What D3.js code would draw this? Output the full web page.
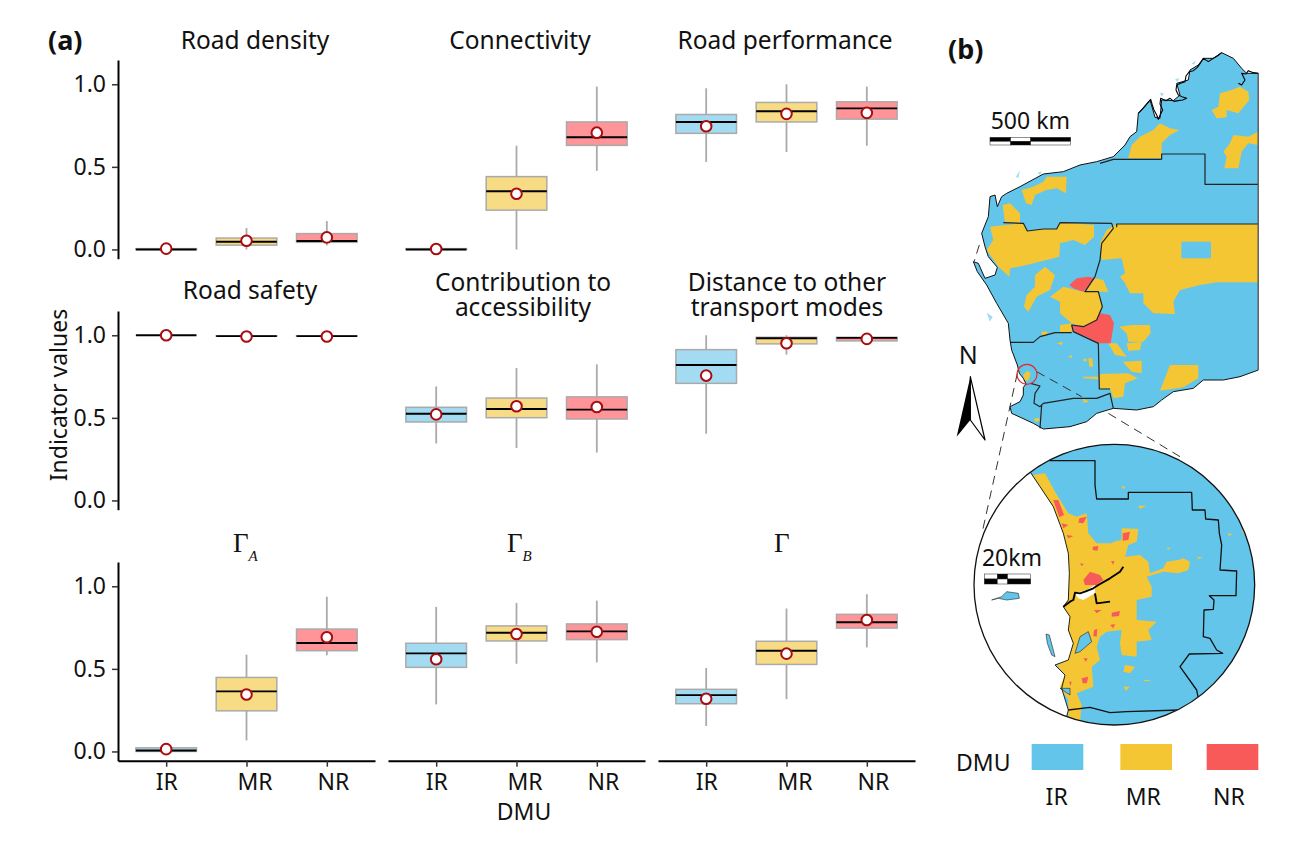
<!DOCTYPE html>
<html><head><meta charset="utf-8">
<script src="https://cdn.jsdelivr.net/npm/d3@7"></script>
<style>
html,body{margin:0;padding:0;background:#fff}
svg{display:block}
text{font-family:"Noto Sans","Open Sans",sans-serif;fill:#111}
</style></head><body>
<svg id="c" width="1305" height="846"></svg>
<script>
// ---------- box-plot data: [low, q1, median, q3, high, mean] for IR, MR, NR ----------
const categories = ["IR","MR","NR"];
const roadDensity  = [[0,0,0,.005,.006,.005],[0,.026,.047,.069,.13,.053],[.024,.043,.051,.096,.172,.073]];
const connectivity = [[0,0,0,.005,.006,.003],[0,.238,.352,.441,.628,.337],[.476,.63,.679,.772,.986,.707]];
const roadPerf     = [[.53,.703,.772,.817,.976,.746],[.59,.772,.837,.89,1.0,.821],[.628,.789,.854,.894,.986,.827]];
const roadSafety   = [[1,1,1,1,1,1],[.995,.995,.995,.997,.997,.993],[.995,.995,.995,.997,.997,.993]];
const contribution = [[.345,.475,.525,.564,.69,.521],[.318,.501,.554,.62,.802,.57],[.29,.493,.55,.627,.824,.566]];
const distance     = [[.404,.709,.82,.913,1.0,.756],[.883,.948,.982,.988,1.0,.952],[.962,.966,.984,.988,.99,.978]];
const gammaA       = [[0,0,.006,.022,.03,.014],[.067,.246,.364,.448,.586,.345],[.582,.61,.657,.741,.937,.691]];
const gammaB       = [[.285,.509,.594,.655,.875,.558],[.531,.669,.719,.76,.899,.711],[.539,.677,.727,.772,.913,.725]];
const gammaAll     = [[.154,.289,.341,.376,.505,.319],[.317,.527,.61,.667,.865,.592],[.63,.747,.782,.83,.952,.796]];
const yTicks = [0,.5,1];
const panelSeries = [roadDensity,connectivity,roadPerf,roadSafety,contribution,distance,gammaA,gammaB,gammaAll];
const panelTitles = [["Road density"],["Connectivity"],["Road performance"],["Road safety"],["Contribution to","accessibility"],["Distance to other","transport modes"],null,null,null];

// ---------- map data, in map units ----------
const stateOutline = [[955,130],[955,1020],[900,1040],[850,1050],[790,1050],[760,1075],[700,1085],[665,1110],[640,1130],[590,1140],[520,1135],[470,1150],[440,1175],[390,1190],[310,1197],[280,1180],[215,1150],[210,1130],[240,1115],[250,1095],[250,1072],[258,1062],[250,1045],[238,1030],[232,1005],[215,960],[210,930],[205,880],[170,820],[140,765],[112,725],[100,695],[115,700],[135,745],[165,735],[172,712],[145,680],[135,650],[125,610],[145,560],[150,500],[165,495],[172,530],[185,500],[200,490],[240,470],[310,432],[370,425],[420,405],[470,395],[520,380],[555,345],[570,320],[590,305],[595,250],[630,210],[645,262],[660,265],[665,210],[700,212],[720,195],[710,160],[745,150],[750,120],[775,105],[790,85],[820,85],[845,68],[880,85],[905,115],[920,130],[955,130]];
const kimberleyCoast = [[595,250],[612,232],[632,208],[637,225],[642,240],[650,255],[655,268],[663,250],[668,240],[660,222],[662,205],[678,212],[690,205],[702,214],[715,212],[728,210],[740,205],[726,200],[715,195],[708,180],[710,165],[722,160],[735,155],[738,138],[748,125],[760,122],[772,112],[782,98],[790,85],[805,95],[820,85],[832,78],[845,68]];
const kimberleyInlet = [[895,160],[905,165],[915,150],[905,130],[918,132],[925,122],[940,128],[955,130]];
const coastSpecks = [[[705,148],[718,145],[712,155]],[[660,188],[672,190],[665,200]],[[228,440],[240,420],[235,445]],[[292,428],[306,424],[300,434]],[[140,848],[158,860],[150,875]],[[755,100],[768,92],[762,104]]];
const yellowMain = [
 [[565,385],[575,345],[600,320],[640,300],[660,280],[690,295],[718,300],[690,315],[665,340],[665,385]],
 [[815,240],[835,230],[840,190],[875,180],[900,170],[925,185],[928,210],[895,250],[860,240],[860,262],[830,265]],
 [[850,365],[870,340],[880,315],[925,320],[955,305],[955,345],[925,340],[905,365],[895,415],[853,415],[860,380]],
 [[245,480],[280,470],[310,455],[320,440],[380,440],[378,490],[350,475],[320,480],[285,495],[275,525],[258,520]],
 [[188,525],[210,520],[240,550],[240,580],[195,578]],
 [[150,590],[250,580],[262,603],[310,597],[350,597],[360,575],[390,580],[462,585],[462,620],[435,645],[400,630],[360,640],[358,680],[320,690],[260,705],[210,715],[208,740],[175,710],[140,660],[160,630]],
 [[530,582],[955,582],[955,757],[830,757],[780,765],[720,780],[700,815],[705,852],[640,850],[610,820],[610,790],[570,790],[555,760],[540,740],[555,730],[545,685],[485,690],[480,640],[500,600]],
 [[285,735],[315,710],[345,735],[330,780],[290,800],[265,845],[252,830],[260,795],[285,770]],
 [[330,800],[370,770],[430,785],[475,785],[487,830],[470,870],[430,890],[395,880],[360,850],[360,815]],
 [[435,785],[465,745],[490,750],[505,785]],
 [[360,885],[395,880],[395,905],[360,908]],
 [[538,890],[575,885],[630,885],[632,910],[610,935],[565,935],[560,910]],
 [[560,940],[605,935],[600,960],[565,962]],
 [[505,940],[530,940],[560,980],[525,975]],
 [[548,995],[605,992],[605,1030],[575,1025]],
 [[478,1032],[565,1030],[593,1045],[555,1060],[550,1100],[520,1105],[510,1075],[478,1077]],
 [[690,1005],[775,1005],[775,1045],[730,1072],[660,1082]],
 [[430,1040],[475,1040],[475,1048],[430,1045]],
 [[445,985],[457,985],[459,1010],[448,1010]],
 [[350,940],[368,935],[365,945]],
 [[385,980],[395,975],[395,985]],
 [[425,990],[440,985],[440,995]],
 [[305,905],[322,905],[322,915],[305,915]],
 [[430,1105],[447,1115],[430,1118]],
 [[282,1165],[298,1165],[298,1173],[285,1175]],
 [[250,1035],[262,1022],[272,1030],[265,1052],[252,1050]]
];
const blueHoleMain = [[724,635],[813,635],[813,685],[724,685]];
const redMain = [
 [[388,765],[410,745],[445,740],[465,745],[430,785],[400,775]],
 [[395,885],[430,890],[470,870],[480,850],[510,855],[522,880],[512,940],[475,940],[440,920],[400,905]]
];
const boundsMain = [
 [[665,388],[665,372],[795,372],[795,463],[955,463]],
 [[480,400],[520,388],[665,388]],
 [[190,578],[250,580],[262,603],[310,597],[350,597],[360,578],[515,580],[520,595],[485,640],[480,690],[465,740],[435,785],[475,785],[487,830],[470,870],[430,890],[395,885],[400,905],[475,940],[478,1077],[510,1077]],
 [[530,592],[530,582],[955,582]],
 [[210,937],[280,937],[300,920],[345,908],[395,908]],
 [[272,1060],[300,1068],[285,1090],[282,1120],[300,1130],[310,1120],[400,1105],[470,1105],[510,1090],[520,1135]],
 [[305,1125],[300,1195]]
];
const zoomDash = [
 [[118,645],[102,695]],
 [[232,1030],[127,1505]],
 [[290,1025],[425,1100]],
 [[505,1150],[720,1280]]
];
// inset, same units
const insetCircle = {cx:523,cy:1664,r:421};
const seaInset = [[270,1325],[300,1370],[340,1430],[370,1510],[385,1570],[388,1630],[385,1710],[370,1730],[390,1760],[385,1800],[400,1840],[385,1890],[345,1905],[375,1935],[365,1975],[385,2040],[380,2060],[380,2100],[60,2100],[60,1300]];
const yellowInset = [[278,1335],[315,1330],[345,1385],[385,1450],[410,1460],[440,1450],[445,1510],[470,1540],[515,1540],[520,1535],[545,1530],[545,1495],[595,1497],[590,1535],[565,1545],[555,1580],[600,1575],[625,1595],[630,1630],[670,1615],[680,1595],[715,1590],[730,1585],[750,1595],[745,1620],[715,1630],[670,1625],[620,1640],[635,1670],[635,1700],[590,1710],[590,1770],[650,1775],[625,1800],[635,1830],[590,1835],[590,1880],[545,1875],[540,1840],[545,1800],[500,1805],[480,1820],[470,1850],[480,1890],[455,1910],[460,1970],[410,1990],[425,2025],[420,2075],[385,2060],[385,2010],[360,1970],[375,1935],[350,1905],[385,1890],[400,1840],[385,1800],[390,1760],[370,1730],[385,1710],[388,1630],[385,1570],[370,1510],[340,1430],[300,1370]];
const yellowSmallInset = [
 [[555,1905],[585,1910],[570,1930],[550,1925]],[[550,1970],[570,1970],[558,1982]],[[595,1427],[618,1427],[600,1437]],
 [[680,1555],[692,1552],[685,1560]],[[772,1580],[788,1582],[775,1588]],[[865,1510],[878,1513],[865,1518]],
 [[905,1500],[915,1505],[908,1510]],[[545,1368],[557,1370],[550,1378]],[[612,1950],[630,1950],[630,1953],[612,1953]]
];
const blueInset = [
 [[420,1820],[445,1805],[455,1835],[420,1865],[405,1870]],
 [[360,1975],[390,1975],[390,1995]],
 [[155,1710],[185,1700],[200,1685],[235,1690],[238,1705],[200,1710],[175,1705]],
 [[318,1812],[328,1815],[345,1880],[335,1875],[322,1840]]
];
const redInset = [
 [[340,1410],[355,1410],[372,1455],[358,1462]],[[365,1480],[385,1485],[370,1495]],[[380,1515],[400,1518],[385,1525]],
 [[418,1465],[440,1460],[430,1480],[415,1478]],[[458,1550],[475,1548],[472,1562],[458,1560]],[[420,1600],[432,1602],[425,1608]],
 [[548,1510],[570,1505],[565,1530],[548,1532]],[[430,1650],[450,1625],[480,1635],[490,1650],[470,1665],[435,1665]],
 [[513,1593],[523,1593],[520,1605]],[[462,1740],[485,1740],[470,1750]],[[515,1748],[540,1743],[537,1758],[515,1760]],
 [[462,1800],[472,1797],[470,1820],[460,1818]],[[510,1785],[525,1782],[520,1795]],[[430,1885],[443,1885],[438,1895]],
 [[425,1945],[445,1940],[440,1960],[428,1960]],[[387,1955],[395,1955],[392,1968]]
];
const boundsInset = [
 [[328,1292],[465,1292],[465,1365],[470,1407],[565,1407],[565,1387],[755,1387],[757,1440],[795,1440],[797,1467],[835,1470],[838,1510],[845,1545],[840,1620],[890,1623],[888,1697],[808,1697],[822,1710],[820,1738],[792,1740],[790,1820],[810,1825],[830,1860],[848,1870],[748,1872],[720,1910],[770,1980],[775,2005]],
 [[385,2040],[450,2032],[510,2048],[560,2045],[720,2040]]
];
const coastInset = [[270,1325],[300,1370],[340,1430],[370,1510],[385,1570],[388,1630],[385,1710],[370,1730],[390,1760],[385,1800],[400,1840],[385,1890],[345,1905],[375,1935],[365,1975],[385,2040],[380,2060]];
const riverInset = [
 [[370,1730],[390,1715],[400,1710],[405,1688],[420,1690],[435,1685],[460,1675],[475,1665],[510,1645],[540,1625],[550,1610]],
 [[465,1690],[470,1720],[510,1715]]
];
const riverWater = [[405,1690],[440,1680],[465,1665],[465,1690],[430,1710],[415,1705]];
const scaleBarMain = {x:[150,212,272,392],y:[322,334,345]};
const scaleBarInset = {x:[133,172,203,272],y:[1632,1647,1662]};
const northArrowRight = [[91,1040],[91,1170],[135,1230]];
const northArrowSolid = [[91,1040],[91,1170],[50,1220]];
const legendKeys = [[275,"IR"],[541,"MR"],[800,"NR"]];

// ---------- styles ----------
const boxFill = {IR:"#a3dcf2",MR:"#f8dc85",NR:"#ff9598"};
const mapColor = {IR:"#63c5ea",MR:"#f5c634",NR:"#f85a5a"};
const svg = d3.select("#c");

// ---------- panels ----------
const panelX = [118,388,658], panelW = 257;
const rowBase = [[60,258.7],[311,509.7],[562,760.7]];
panelSeries.forEach((series,i)=>{
  const col = i%3, row = Math.floor(i/3);
  const x = d3.scalePoint().domain(categories).range([panelX[col],panelX[col]+panelW]).padding(.6);
  const y = d3.scaleLinear().domain([-.056,1.147]).range([rowBase[row][1],rowBase[row][0]]);
  const g = svg.append("g");
  const bw = x.step()*.755;
  series.forEach((d,k)=>{
    const c = categories[k], cx = x(c);
    const [lo,q1,med,q3,hi,mean] = d;
    g.append("line").attr("x1",cx).attr("x2",cx).attr("y1",y(lo)).attr("y2",y(hi)).attr("stroke","#aaa").attr("stroke-width",1.8);
    g.append("rect").attr("x",cx-bw/2).attr("width",bw).attr("y",y(q3)).attr("height",y(q1)-y(q3))
      .attr("fill",boxFill[c]).attr("stroke","#aaa").attr("stroke-width",1.5);
    g.append("line").attr("x1",cx-bw/2).attr("x2",cx+bw/2).attr("y1",y(med)).attr("y2",y(med)).attr("stroke","#000").attr("stroke-width",1.9);
    g.append("circle").attr("cx",cx).attr("cy",y(mean)).attr("r",5.3).attr("fill","#fff").attr("stroke","#a80c10").attr("stroke-width",2);
  });
  if(col===0){
    const ax = g.append("g").attr("transform",`translate(${panelX[0]},0)`)
      .call(d3.axisLeft(y).tickValues(yTicks).tickFormat(d3.format(".1f")).tickSize(6).tickSizeOuter(0).tickPadding(6));
    ax.select(".domain").attr("stroke","#000").attr("stroke-width",2);
    ax.selectAll(".tick line").attr("stroke","#333").attr("stroke-width",1.5);
    ax.selectAll("text").style("font-size","23px").style("font-family",'"Noto Sans"').attr("fill","#111");
  }
  if(row===2){
    const ax = g.append("g").attr("transform",`translate(0,${rowBase[2][1]})`)
      .call(d3.axisBottom(x).tickSize(6).tickSizeOuter(0).tickPadding(7));
    ax.select(".domain").attr("stroke","#000").attr("stroke-width",2);
    ax.selectAll(".tick line").attr("stroke","#333").attr("stroke-width",1.5);
    ax.selectAll("text").style("font-size","23px").style("font-family",'"Noto Sans"').attr("fill","#111")
      .attr("dx",(d)=>({IR:0,MR:8,NR:6})[d]);
  }
  const title = panelTitles[i];
  if(title){
    const cx = [[255,520,785],[250,523,787]][row][col];
    const base = title.length===2?291:(row?299:49);
    const t = svg.append("text").attr("text-anchor","middle").style("font-size","24.5px");
    title.forEach((s,j)=>t.append("tspan").attr("x",cx).attr("y",base+25*j).text(s));
  }
});
// gamma titles
[[233,"A"],[507,"B"],[774,""]].forEach(([gx,s])=>{
  svg.append("text").attr("x",gx).attr("y",552).style("font-size","27px").style("font-family",'"Liberation Serif"').text("Γ");
  if(s) svg.append("text").attr("x",gx+15.5).attr("y",560.5).style("font-size","15px").style("font-style","italic").style("font-family",'"Liberation Serif"').text(s);
});
svg.append("text").attr("x",48).attr("y",50).style("font-size","27px").style("font-weight",700).text("(a)");
svg.append("text").attr("x",948).attr("y",59).style("font-size","27px").style("font-weight",700).text("(b)");
svg.append("text").attr("x",524).attr("y",820).attr("text-anchor","middle").style("font-size","23px").text("DMU");
svg.append("text").attr("transform","translate(67,395) rotate(-90)").attr("text-anchor","middle").style("font-size","23px").text("Indicator values");

// ---------- map ----------
const mx = d3.scaleLinear().domain([0,990]).range([940,1270]);
const my = d3.scaleLinear().domain([0,1260]).range([30,450]);
const mline = d3.line().x(d=>mx(d[0])).y(d=>my(d[1]));
const poly = (g,pts,fill,stroke,sw)=>g.append("path").attr("d",mline(pts)+(fill==="none"?"":"Z")).attr("fill",fill).attr("stroke",stroke||"none").attr("stroke-width",sw||0).attr("stroke-linejoin","round");
const m = svg.append("g");
coastSpecks.forEach(p=>poly(m,p,"#a3dcf2"));
poly(m,stateOutline,mapColor.IR);
yellowMain.forEach(p=>poly(m,p,mapColor.MR));
poly(m,blueHoleMain,mapColor.IR);
redMain.forEach(p=>poly(m,p,mapColor.NR));
boundsMain.forEach(p=>poly(m,p,"none","#222",1.2));
poly(m,stateOutline,"none","#111",1);
poly(m,kimberleyCoast,"none","#000",1.1);
poly(m,kimberleyInlet,"none","#000",1.1);
poly(m,[[955,130],[955,1020]],"none","#666",1.4);
zoomDash.forEach(p=>poly(m,p,"none","#333",1).attr("stroke-dasharray","9,6"));
m.append("circle").attr("cx",mx(261)).attr("cy",my(1033)).attr("r",mx(30)-mx(0)).attr("fill","none").attr("stroke","#e8282c").attr("stroke-width",1.2);

// inset
const ins = svg.append("g");
const defs = svg.append("defs");
const cx0 = mx(insetCircle.cx), cy0 = my(insetCircle.cy), r0 = mx(insetCircle.r)-mx(0);
defs.append("clipPath").attr("id","ic").append("circle").attr("cx",cx0).attr("cy",cy0).attr("r",r0);
const cg = ins.append("g").attr("clip-path","url(#ic)");
cg.append("circle").attr("cx",cx0).attr("cy",cy0).attr("r",r0).attr("fill",mapColor.IR);
poly(cg,seaInset,"#fff");
poly(cg,yellowInset,mapColor.MR);
yellowSmallInset.forEach(p=>poly(cg,p,mapColor.MR));
blueInset.forEach(p=>poly(cg,p,mapColor.IR,"#222",.6));
redInset.forEach(p=>poly(cg,p,mapColor.NR));
boundsInset.forEach(p=>poly(cg,p,"none","#111",1.3));
poly(cg,coastInset,"none","#111",.9);
poly(cg,riverWater,"#fff");
riverInset.forEach(p=>poly(cg,p,"none","#000",1.9));
ins.append("circle").attr("cx",cx0).attr("cy",cy0).attr("r",r0).attr("fill","none").attr("stroke","#111").attr("stroke-width",1.3);

// scale bars
const top_ = svg.append("g");
function bar(b,topFill,botFill){
  for(let i=0;i<3;i++){
    [0,1].forEach(r=>{
      const f = r===0?topFill[i]:botFill[i];
      top_.append("rect").attr("x",mx(b.x[i])).attr("width",mx(b.x[i+1])-mx(b.x[i]))
       .attr("y",my(b.y[r])).attr("height",my(b.y[r+1])-my(b.y[r])).attr("fill",f).attr("stroke","#222").attr("stroke-width",.5);
    });
  }
}
bar(scaleBarMain,["#000","#fff","#000"],["#fff","#000","#fff"]);
bar(scaleBarInset,["#fff","#000","#fff"],["#000","#fff","#000"]);
svg.append("text").attr("x",mx(271)).attr("y",my(296)).attr("text-anchor","middle").style("font-size","23px").text("500 km");
svg.append("text").attr("x",mx(216)).attr("y",my(1608)).attr("text-anchor","middle").style("font-size","23px").text("20km");

// north arrow
poly(top_,northArrowRight,"#fff","#000",1.2);
poly(top_,northArrowSolid,"#000");
svg.append("text").attr("x",mx(85)).attr("y",my(1003)).attr("text-anchor","middle").style("font-size","25px").text("N");

// legend
svg.append("text").attr("x",mx(48)).attr("y",my(2222)).style("font-size","23px").text("DMU");
legendKeys.forEach(([lx,c])=>{
  svg.append("rect").attr("x",mx(lx)).attr("y",my(2142)).attr("width",mx(155)-mx(0)).attr("height",my(78)-my(0)).attr("fill",mapColor[c]);
  svg.append("text").attr("x",mx(lx+({IR:75,MR:69,NR:67})[c])).attr("y",my(2325)).attr("text-anchor","middle").style("font-size","23px").text(c);
});
</script>
</body></html>
